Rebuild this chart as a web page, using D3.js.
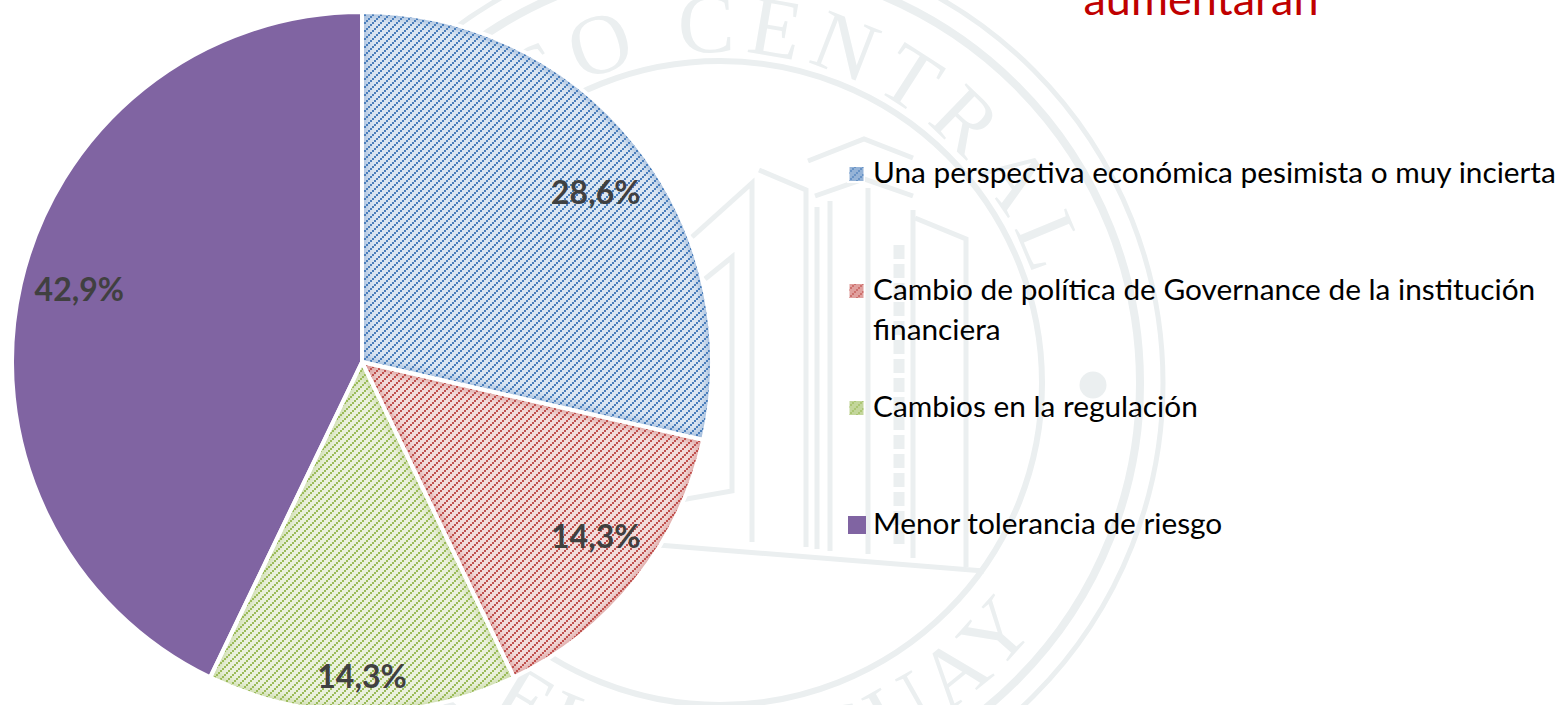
<!DOCTYPE html>
<html>
<head>
<meta charset="utf-8">
<script src="https://cdn.jsdelivr.net/npm/d3@7"></script>
<style>
  body { margin: 0; background: #fff; }
  svg { display: block; }
</style>
</head>
<body>
<div id="chart"></div>
<script>
const categories = [
  'Una perspectiva económica pesimista o muy incierta',
  'Cambio de política de Governance de la institución\nfinanciera',
  'Cambios en la regulación',
  'Menor tolerancia de riesgo'
];
const values = [28.6, 14.3, 14.3, 42.9];
const valueLabels = ['28,6%', '14,3%', '14,3%', '42,9%'];
const stripeColors = ['#4a7ebb', '#c0504d', '#9bbb59', '#8064a2'];
const lightColors = ['#dce6f2', '#f2dcdb', '#ebf1de', '#8064a2'];
const swatchColors = ['#95b3d7', '#e0a09e', '#c3d69b', '#8064a2'];
const titleText = 'aumentaran';

const width = 1562;
const height = 705;
const wm = '#ebeff0';

const svg = d3.select('#chart').append('svg')
  .attr('width', width)
  .attr('height', height);

const defs = svg.append('defs');

// staircase stripes, first three slices only
stripeColors.forEach((c, i) => {
  if (i === 3) return;
  const p = defs.append('pattern')
    .attr('id', 'stripe' + i)
    .attr('patternUnits', 'userSpaceOnUse')
    .attr('width', 8)
    .attr('height', 8);
  p.selectAll('rect').data([[0, 6], [2, 4], [4, 2], [6, 0]]).join('rect')
    .attr('x', d => d[0])
    .attr('y', d => d[1])
    .attr('width', 2)
    .attr('height', 2)
    .attr('fill', c)
    .attr('shape-rendering', 'crispEdges');
});
defs.append('filter').attr('id', 'soft')
  .attr('x', '-10%').attr('y', '-10%').attr('width', '120%').attr('height', '120%')
  .append('feGaussianBlur').attr('stdDeviation', 4);

// watermark seal behind the chart
const seal = svg.append('g')
  .attr('fill', 'none')
  .attr('stroke', wm);
const sealX = 720, sealY = 383;
[[322, 6], [420, 8], [443, 5]].forEach(r => {
  seal.append('circle')
    .attr('cx', sealX).attr('cy', sealY).attr('r', r[0])
    .attr('stroke-width', r[1]);
});
seal.append('circle')
  .attr('cx', 1093).attr('cy', 385).attr('r', 13.5)
  .attr('fill', wm).attr('stroke', 'none');

const lines = [
  [[692, 237], [752, 183], [752, 542]],
  [[759, 170], [806, 190], [806, 547]],
  [[808, 161], [864, 139], [913, 158]],
  [[815, 196], [864, 179], [913, 196]],
  [[817, 207], [817, 549]],
  [[830, 201], [830, 551]],
  [[868, 188], [868, 554]],
  [[913, 210], [913, 558]],
  [[915, 218], [966, 239], [966, 567]],
  [[705, 279], [732, 257], [732, 491], [681, 500]],
  [[658, 545], [984, 571]]
];
seal.selectAll('path.b').data(lines).join('path')
  .attr('class', 'b')
  .attr('d', d3.line())
  .attr('stroke-width', 5);
seal.append('path')
  .attr('d', d3.line()([[899, 245], [899, 549]]))
  .attr('stroke-width', 11)
  .attr('stroke-dasharray', '14 5');

// text round the seal
defs.append('path').attr('id', 'sealTop')
  .attr('d', `M${sealX - 331},${sealY} A331,331 0 1 1 ${sealX + 331},${sealY} A331,331 0 0 1 ${sealX - 331},${sealY}`);
defs.append('path').attr('id', 'sealBottom')
  .attr('d', `M${sealX - 400},${sealY} A400,400 0 0 0 ${sealX + 400},${sealY}`);
svg.append('text')
  .attr('font-family', 'Liberation Serif')
  .attr('font-size', 85)
  .attr('fill', wm)
  .attr('text-anchor', 'middle')
  .append('textPath')
  .attr('href', '#sealTop')
  .attr('startOffset', '25%')
  .attr('letter-spacing', 10)
  .text('BANCO CENTRAL');
svg.append('text')
  .attr('font-family', 'Liberation Serif')
  .attr('font-size', 85)
  .attr('fill', wm)
  .attr('text-anchor', 'middle')
  .append('textPath')
  .attr('href', '#sealBottom')
  .attr('startOffset', '52.2%')
  .attr('letter-spacing', 8)
  .text('DEL URUGUAY');

// pie
const cx = 362, cy = 362, radius = 350;
const pie = d3.pie().sort(null).value(d => d);
const arcs = pie(values);
const arc = d3.arc().innerRadius(0).outerRadius(radius);

const g = svg.append('g').attr('transform', `translate(${cx},${cy})`);

arcs.forEach((d, i) => {
  defs.append('clipPath').attr('id', 'clip' + i)
    .append('path').attr('d', arc(d));
  g.append('path').attr('d', arc(d)).attr('fill', lightColors[i]);
  if (i === 3) return;
  g.append('g').attr('clip-path', `url(#clip${i})`)
    .append('path')
    .attr('d', arc(d))
    .attr('fill', 'none')
    .attr('stroke', stripeColors[i])
    .attr('stroke-opacity', 0.55)
    .attr('stroke-width', 7)
    .attr('filter', 'url(#soft)');
  g.append('path').attr('d', arc(d)).attr('fill', `url(#stripe${i})`);
});

g.selectAll('path.edge').data(arcs).join('path')
  .attr('class', 'edge')
  .attr('d', arc)
  .attr('fill', 'none')
  .attr('stroke', '#fff')
  .attr('stroke-width', 4)
  .attr('stroke-linejoin', 'round');

// data labels, nudged from the centroid like the best-fit ones in the picture
const labelNudge = [[7, 12], [7, -6], [0, 1], [0, -8]];
const labelArc = d => {
  const r = d.index === 2 ? 314 : 290;
  const c = d3.arc().innerRadius(r).outerRadius(r).centroid(d);
  return [c[0] + labelNudge[d.index][0], c[1] + labelNudge[d.index][1]];
};
g.selectAll('text.value').data(arcs).join('text')
  .attr('class', 'value')
  .attr('transform', d => `translate(${labelArc(d)})`)
  .attr('text-anchor', 'middle')
  .attr('dy', '0.35em')
  .attr('font-family', 'Lato')
  .attr('font-weight', 700)
  .attr('font-size', 32)
  .attr('fill', '#404040')
  .text((d, i) => valueLabels[i]);

// legend
const legendY = d3.scalePoint().domain(categories).range([174, 525]);
const legend = svg.append('g');
const item = legend.selectAll('g').data(categories).join('g')
  .attr('transform', d => `translate(0,${legendY(d)})`);

item.append('rect')
  .attr('x', 847).attr('y', -9).attr('width', 18).attr('height', 18)
  .attr('fill', '#fff');
item.append('rect')
  .attr('x', (d, i) => i === 3 ? 848 : 849.5)
  .attr('y', (d, i) => i === 3 ? -9 : -7)
  .attr('width', (d, i) => i === 3 ? 18 : 14)
  .attr('height', (d, i) => i === 3 ? 18 : 14)
  .attr('fill', (d, i) => swatchColors[i]);
item.filter((d, i) => i < 3).append('rect')
  .attr('x', 849.5).attr('y', -7).attr('width', 14).attr('height', 14)
  .attr('fill', (d, i) => `url(#stripe${i})`)
  .attr('opacity', 0.6);

item.append('text')
  .attr('font-family', 'Lato')
  .attr('font-size', 29.8)
  .attr('fill', '#000')
  .selectAll('tspan')
  .data(d => d.split('\n'))
  .join('tspan')
  .attr('x', 873)
  .attr('y', (d, i) => 9 + i * 40)
  .text(d => d);

// title, cut off by the top of the page
svg.append('text')
  .attr('x', 1201)
  .attr('y', 15)
  .attr('text-anchor', 'middle')
  .attr('font-family', 'Lato')
  .attr('font-size', 45)
  .attr('fill', '#c00000')
  .text(titleText);
</script>
</body>
</html>
